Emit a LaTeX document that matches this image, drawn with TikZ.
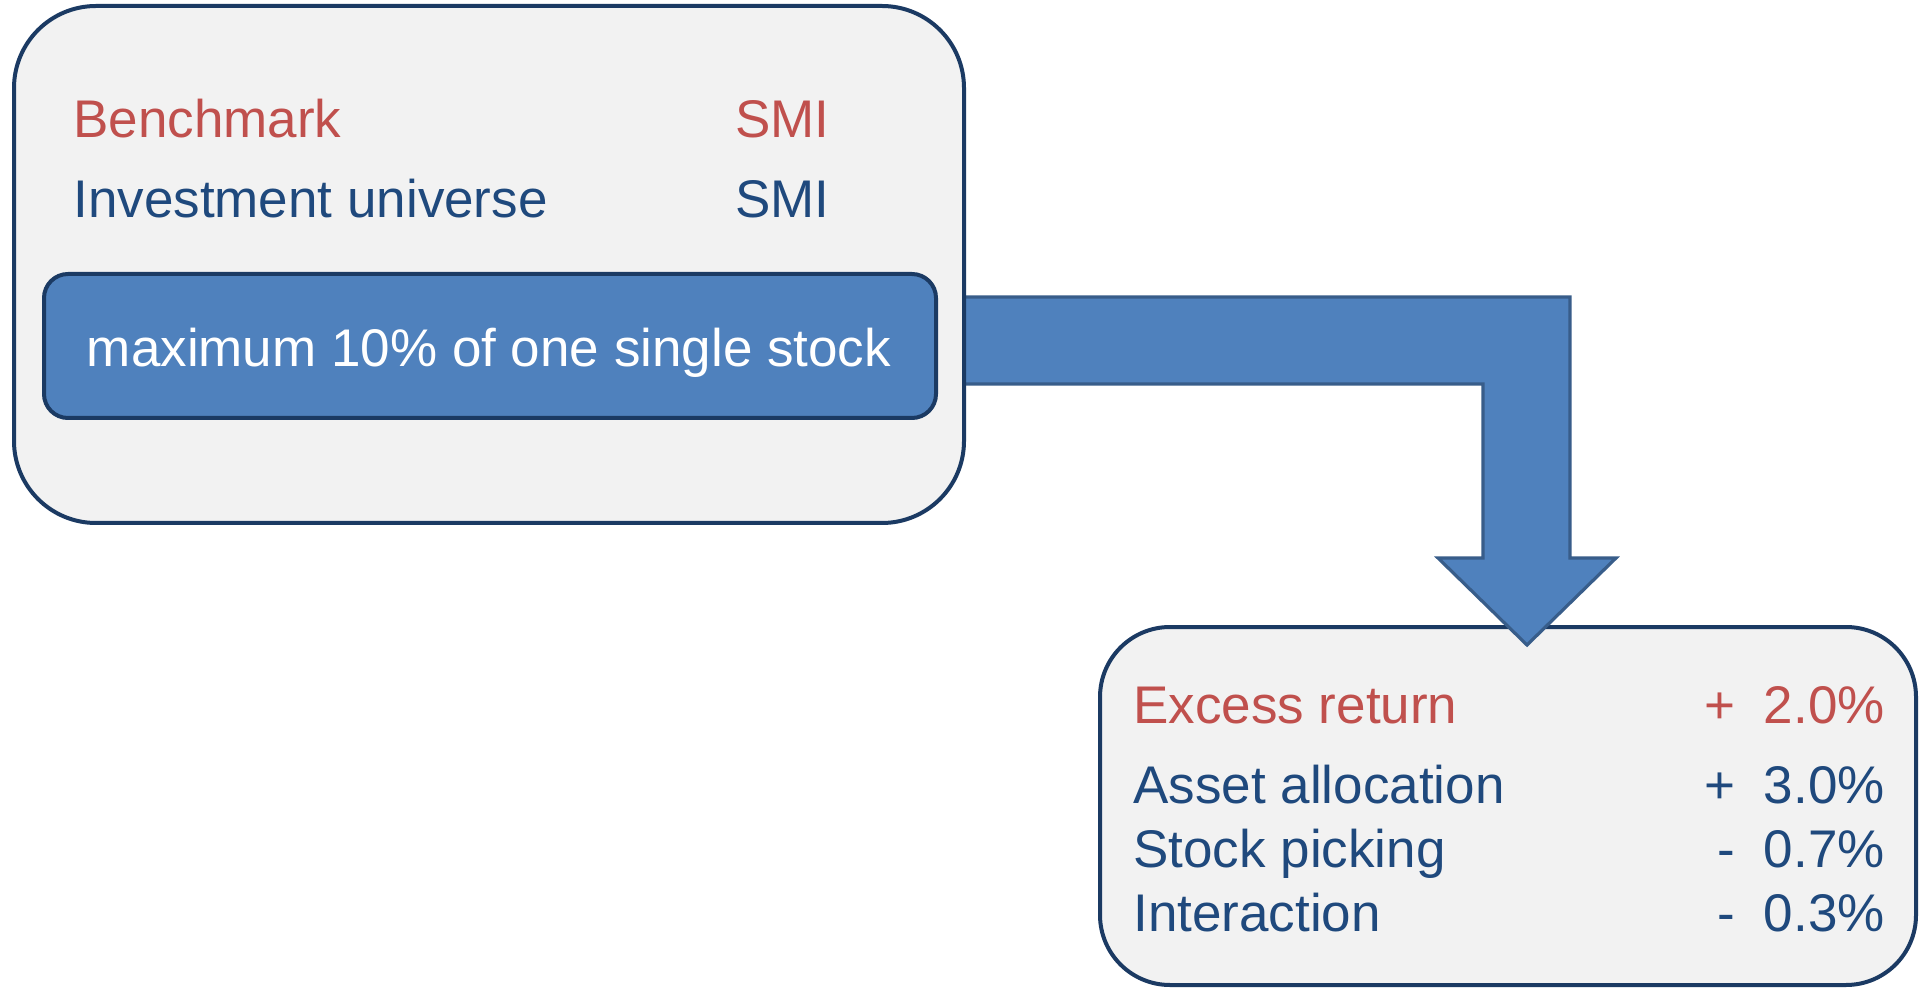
\documentclass[tikz,border=0pt]{standalone}
\usepackage{fontspec}
\setmainfont{Liberation Sans}
\definecolor{txtred}{HTML}{C0504D}
\definecolor{txtblue}{HTML}{1F497D}
\definecolor{boxfill}{HTML}{F2F2F2}
\definecolor{boxline}{HTML}{1B3A63}
\definecolor{arrfill}{HTML}{4F81BD}
\definecolor{arrline}{HTML}{385D8A}
\begin{document}
\begin{tikzpicture}[x=0.5pt,y=-0.5pt,
  panel/.style={draw=boxline, fill=boxfill, line width=2pt, rectangle, inner sep=0pt},
  limitbox/.style={draw=boxline, fill=arrfill, line width=2pt, rectangle, rounded corners=12pt, inner sep=0pt, minimum width=446pt, minimum height=72pt},
  lbl/.style={inner sep=0pt, anchor=base west, font=\fontsize{26.5}{30}\selectfont},
  rlbl/.style={inner sep=0pt, anchor=base east, font=\fontsize{26.5}{30}\selectfont},
  blockarrow/.style={draw=arrline, fill=arrfill, line width=1.6pt, miter limit=10}
]
\useasboundingbox (0,0) rectangle (1921,988);
\fill[white] (0,0) rectangle (1921,988);

% lower result panel
\node[panel, rounded corners=35pt, minimum width=408pt, minimum height=179pt] (result) at (1508,806) {};

% bent block arrow
\coordinate (a1) at (962,297);
\coordinate (a2) at (1570,297);
\coordinate (a3) at (1570,558);
\coordinate (a4) at (1616,558);
\coordinate (tip) at (1527,645);
\coordinate (a6) at (1438,558);
\coordinate (a7) at (1483,558);
\coordinate (a8) at (1483,384);
\coordinate (a9) at (962,384);
\draw[blockarrow] (a1) -- (a2) -- (a3) -- (a4) -- (tip) -- (a6) -- (a7) -- (a8) -- (a9) -- cycle;

% upper settings panel
\node[panel, rounded corners=41pt, minimum width=475pt, minimum height=258.5pt] (settings) at (489,264.5) {};

\node[lbl, text=txtred] (bench) at (73,138) {Benchmark};
\node[lbl, text=txtred] (benchval) at (735,138) {SMI};
\node[lbl, text=txtblue] (univ) at (73,218) {Investment universe};
\node[lbl, text=txtblue] (univval) at (735,218) {SMI};

\node[limitbox] (limit) at (490,346) {};
\node[inner sep=0pt, anchor=base, text=white, font=\fontsize{26.5}{30}\selectfont] (limittext) at (489,367) {maximum 10\% of one single stock};

% results
\node[lbl, text=txtred] (excess) at (1133,723) {Excess return};
\node[rlbl, text=txtred] (excesss) at (1736,723) {+};
\node[rlbl, text=txtred] (excessv) at (1885,723) {2.0\%};

\node[lbl, text=txtblue] (alloc) at (1133,803) {Asset allocation};
\node[rlbl, text=txtblue] (allocs) at (1736,803) {+};
\node[rlbl, text=txtblue] (allocv) at (1885,803) {3.0\%};

\node[lbl, text=txtblue] (pick) at (1133,867) {Stock picking};
\node[rlbl, text=txtblue] (picks) at (1736,867) {-};
\node[rlbl, text=txtblue] (pickv) at (1885,867) {0.7\%};

\node[lbl, text=txtblue] (inter) at (1133,931) {Interaction};
\node[rlbl, text=txtblue] (inters) at (1736,931) {-};
\node[rlbl, text=txtblue] (interv) at (1885,931) {0.3\%};
\end{tikzpicture}
\end{document}
